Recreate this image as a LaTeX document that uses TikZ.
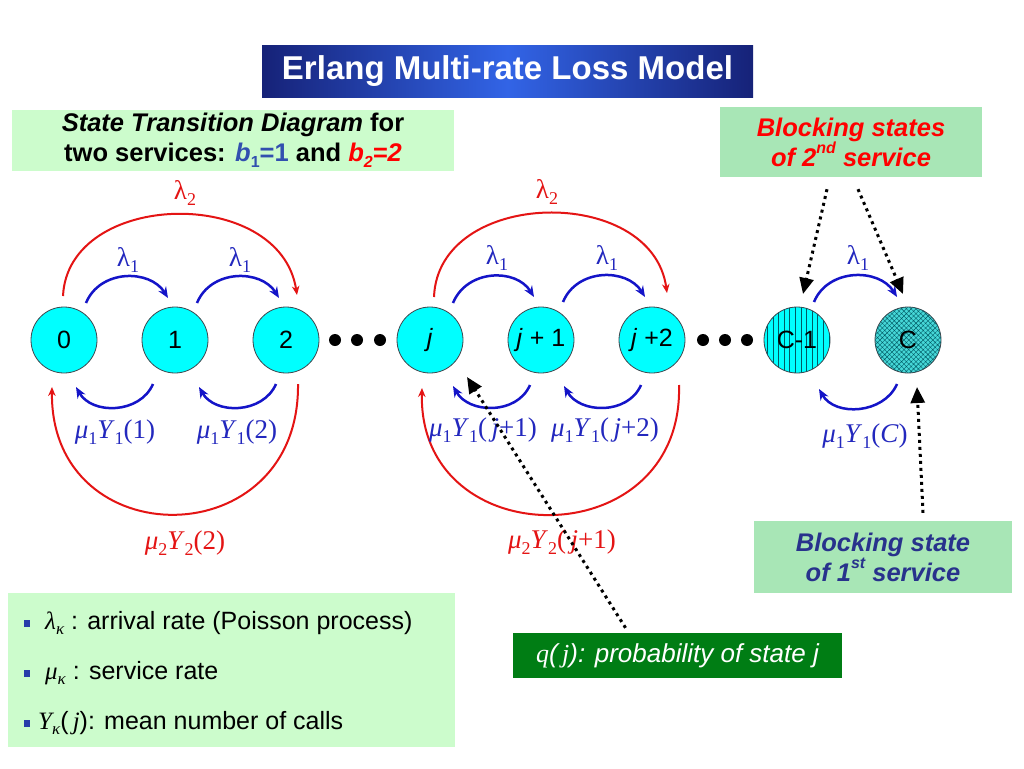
\documentclass[tikz,border=0pt]{standalone}
\usepackage{fontspec}
\setmainfont{Liberation Sans}
\newfontfamily\lserif{Liberation Serif}
\usetikzlibrary{arrows.meta,calc,patterns.meta}
\definecolor{navy}{RGB}{22,34,120}
\definecolor{titlemid}{RGB}{50,100,230}
\definecolor{lgreen}{RGB}{204,252,204}
\definecolor{mgreen}{RGB}{168,230,182}
\definecolor{qgreen}{RGB}{0,125,20}
\definecolor{arcblue}{RGB}{20,20,200}
\definecolor{labblue}{RGB}{35,40,190}
\definecolor{arcred}{RGB}{228,20,20}
\definecolor{b1blue}{RGB}{50,80,175}
\definecolor{boxblue}{RGB}{40,50,140}
\definecolor{bulblue}{RGB}{40,60,170}
\definecolor{nodecyan}{RGB}{0,255,255}
\definecolor{ccyan}{RGB}{70,215,215}
\definecolor{hatchcol}{RGB}{0,90,100}
\newcommand\gs[1]{{\lserif\itshape #1}}
\newcommand\gu[1]{{\lserif #1}}
\newcommand\ls[2][18]{\raisebox{-0.22em}{\fontsize{#1}{#1}\selectfont #2}}
\newcommand\sbs[1]{\raisebox{-0.22em}{\fontsize{16}{16}\selectfont #1}}
\newcommand\sps[1]{\raisebox{0.5em}{\fontsize{16}{16}\selectfont #1}}
\newcommand\labfont{\lserif\fontsize{27}{27}\selectfont}
\tikzset{
  state/.style={circle, draw=black!80!cyan, line width=0.8pt, fill=nodecyan,
    minimum size=66pt, inner sep=0pt, font=\fontsize{25}{25}\selectfont},
  barc/.style={draw=arcblue, line width=2.5pt, -{Stealth[length=11pt,width=9pt]}},
  rarc/.style={draw=arcred, line width=2pt, -{Stealth[length=9pt,width=7.5pt]}},
  dotarrow/.style={draw=black, line width=3pt, dash pattern=on 3pt off 4pt,
    -{Triangle[length=16pt,width=14pt]}},
  bluelab/.style={text=labblue, font=\labfont, inner sep=0pt},
  redlab/.style={text=arcred, font=\labfont, inner sep=0pt},
  greenbox/.style={fill=mgreen, inner sep=0pt, align=center,
    font=\fontsize{25.5}{30}\selectfont\bfseries\itshape},
  legtext/.style={anchor=west, inner sep=0pt, font=\fontsize{25}{25}\selectfont},
  bullet/.style={fill=bulblue, minimum width=6pt, minimum height=7pt, inner sep=0pt},
  dotfill/.style={fill=black}
}
\begin{document}
\begin{tikzpicture}[x=1pt,y=-1pt]
\useasboundingbox[fill=white] (0,0) rectangle (1024,768);

% title
\node[left color=navy, right color=navy, middle color=titlemid,
  minimum width=491pt, minimum height=51pt, inner sep=0pt, text=white,
  font=\fontsize{33}{36}\selectfont\bfseries] (title) at (507.5,71.5)
  {Erlang Multi-rate Loss Model};

% header box
\node[fill=lgreen, minimum width=442pt, minimum height=61pt, inner sep=0pt,
  align=center, font=\fontsize{25.5}{30}\selectfont\bfseries] (hdr) at (233,140.5)
  {\textit{State Transition Diagram} for\\
   two services: {\color{b1blue}\textit{b}\sbs{1}=1} and {\color{red}\textit{b\sbs{2}=2}}};

% blocking boxes
\node[greenbox, text=red, minimum width=262pt, minimum height=70pt] (bs2) at (851,142)
  {Blocking states\\of 2\sps{nd} service};
\node[greenbox, text=boxblue, minimum width=258pt, minimum height=72pt] (bs1) at (883,557)
  {Blocking state\\of 1\sps{st} service};

% states
\node[state] (n0) at (64,340) {0};
\node[state] (n1) at (175,340) {1};
\node[state] (n2) at (286,340) {2};
\node[state] (nj) at (430,340) {\textit{j}};
\node[state] (nj1) at (541,340) {\textit{j} + 1};
\node[state] (nj2) at (652,340) {\textit{j} +2};
\node[state, postaction={pattern={Lines[angle=90,distance=5.6pt,line width=0.6pt]}, pattern color=hatchcol}] (nc1) at (797,340) {};
\node[font=\fontsize{25}{25}\selectfont] at (nc1) {C-1};
\node[state, fill=ccyan, postaction={pattern={Hatch[angle=45,distance=3.4pt,line width=0.4pt]}, pattern color=hatchcol}] (nc) at (908,340) {};
\node[font=\fontsize{25}{25}\selectfont] at (nc) {C};

% ellipsis dots
\foreach \x in {335,357,380,703,725,747} \fill[dotfill] (\x,340) circle (6pt);

% group 1 arcs
\draw[barc] ($(n0)+(22,-37)$) .. controls +(14,-34) and +(-18,-29) .. ($(n1)+(-7,-42)$);
\draw[barc] ($(n1)+(22,-37)$) .. controls +(14,-34) and +(-18,-29) .. ($(n2)+(-7,-42)$);
\draw[rarc] ($(n0)+(-1,-44)$) .. controls +(5,-106) and +(-17,-110) .. ($(n2)+(11,-45)$);
\draw[barc] ($(n1)+(-22,44)$) .. controls +(-13,30) and +(16,28) .. ($(n0)+(12,47)$);
\draw[barc] ($(n2)+(-10,44)$) .. controls +(-13,30) and +(16,28) .. ($(n1)+(24,47)$);
\draw[rarc] ($(n2)+(12,44)$) .. controls +(2,173) and +(-2,170) .. ($(n0)+(-12,47)$);

% group j arcs
\draw[barc] ($(nj)+(23,-37)$) .. controls +(14,-34) and +(-18,-29) .. ($(nj1)+(-7,-43)$);
\draw[barc] ($(nj1)+(22,-38)$) .. controls +(14,-34) and +(-18,-29) .. ($(nj2)+(-7,-43)$);
\draw[rarc] ($(nj)+(4,-43)$) .. controls +(4,-109) and +(-15,-109) .. ($(nj2)+(15,-47)$);
\draw[barc] ($(nj1)+(-11,45)$) .. controls +(-13,30) and +(16,28) .. ($(nj)+(23,46)$);
\draw[barc] ($(nj2)+(-11,45)$) .. controls +(-13,30) and +(16,28) .. ($(nj1)+(23,46)$);
\draw[rarc] ($(nj2)+(27,45)$) .. controls +(5,172) and +(-4,169) .. ($(nj)+(-8,48)$);

% group C arcs
\draw[barc] ($(nc1)+(17,-38)$) .. controls +(14,-34) and +(-18,-29) .. ($(nc)+(-11,-43)$);
\draw[barc] ($(nc)+(-11,44)$) .. controls +(-13,30) and +(16,28) .. ($(nc1)+(22,49)$);

% labels
\node[redlab] (l2a) at (185,193) {\gu{λ}\ls{2}};
\node[bluelab] (l1a) at (128,260) {\gu{λ}\ls{1}};
\node[bluelab] (l1b) at (240,260) {\gu{λ}\ls{1}};
\node[bluelab] (m1a) at (115,432) {\textit{μ}\ls{1}\textit{Y}\ls{1}(1)};
\node[bluelab] (m1b) at (237,432) {\textit{μ}\ls{1}\textit{Y}\ls{1}(2)};
\node[redlab] (m2a) at (185,543) {\textit{μ}\ls{2}\textit{Y}\ls{2}(2)};
\node[redlab] (l2b) at (547,192) {\gu{λ}\ls{2}};
\node[bluelab] (l1c) at (497,258) {\gu{λ}\ls{1}};
\node[bluelab] (l1d) at (607,258) {\gu{λ}\ls{1}};
\node[bluelab] (m1c) at (483,430) {\textit{μ}\ls{1}\textit{Y}\ls{1}(\,\textit{j}+1)};
\node[bluelab] (m1d) at (605,430) {\textit{μ}\ls{1}\textit{Y}\ls{1}(\,\textit{j}+2)};
\node[redlab] (m2b) at (562,542) {\textit{μ}\ls{2}\textit{Y}\ls{2}(\,\textit{j}+1)};
\node[bluelab] (l1e) at (858,258) {\gu{λ}\ls{1}};
\node[bluelab] (m1e) at (865,436) {\textit{μ}\ls{1}\textit{Y}\ls{1}(\textit{C})};

% legend
\node[fill=lgreen, minimum width=447pt, minimum height=154pt, inner sep=0pt] (leg) at (231.5,670) {};
\node[bullet] (b1) at (27,623) {};
\node[bullet] (b2) at (27,673) {};
\node[bullet] (b3) at (27,723) {};
\node[legtext] (t1) at (45,623) {\gs{λ}\ls[17]{\gs{κ}} : arrival rate (Poisson process)};
\node[legtext] (t2) at (45,673) {\gs{μ}\ls[17]{\gs{κ}} : service rate};
\node[legtext] (t3) at (38,723) {\gs{Y}\ls[17]{\gs{κ}}(\,\gs{j}): mean number of calls};

% q(j) box
\node[fill=qgreen, minimum width=329pt, minimum height=45pt, inner sep=0pt, text=white,
  font=\fontsize{26}{26}\selectfont\itshape] (qbox) at (677.5,655.5)
  {\gs{q}(\,\gs{j}): probability of state j};

% dotted pointers
\coordinate (s1) at ($(bs2.south)+(-24,12)$);
\coordinate (s2) at ($(bs2.south)+(7,12)$);
\coordinate (s3) at ($(bs1.north)+(40,-8)$);
\coordinate (s4) at ($(qbox.north)+(-52,-5)$);
\draw[dotarrow] (s1) -- ($(nc1)+(6,-46)$);
\draw[dotarrow] (s2) -- ($(nc)+(-5,-46)$);
\draw[dotarrow] (s3) -- ($(nc)+(9,47)$);
\draw[dotarrow] (s4) -- ($(nj)+(37,37)$);
\end{tikzpicture}
\end{document}
